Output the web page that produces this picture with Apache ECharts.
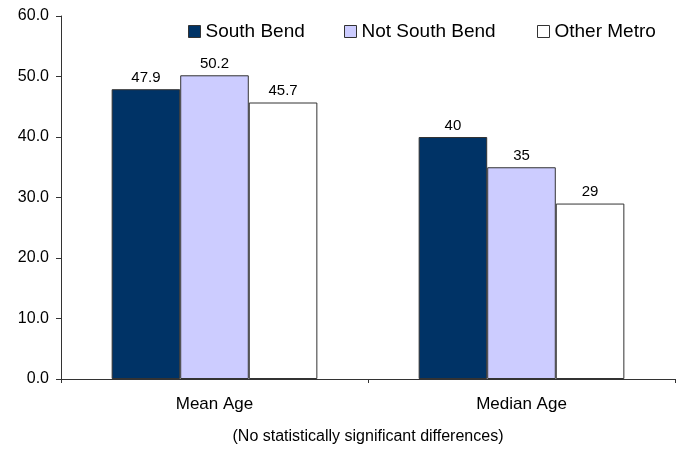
<!DOCTYPE html>
<html>
<head>
<meta charset="utf-8">
<script src="https://cdn.jsdelivr.net/npm/echarts@6/dist/echarts.min.js"></script>
<style>
  html, body { margin: 0; padding: 0; background: #fff; }
  #main { width: 681px; height: 450px; }
</style>
</head>
<body>
<div id="main"></div>
<script>
// 数据
const categories = ['Mean Age', 'Median Age'];
const southBend = [47.9, 40];
const notSouthBend = [50.2, 35];
const otherMetro = [45.7, 29];
const seriesNames = ['South Bend', 'Not South Bend', 'Other Metro'];
const seriesColors = ['#003366', '#CCCCFF', '#FFFFFF'];
const legendLeft = [183, 339, 532];

const myChart = echarts.init(document.getElementById('main'));
const font = 'Liberation Sans, Arial, sans-serif';

const makeSeries = (name, data, color) => ({
  name: name,
  type: 'bar',
  data: data,
  barCategoryGap: '33%',
  barGap: '0%',
  itemStyle: { color: color, borderColor: '#333', borderWidth: 1 },
  label: {
    show: true,
    position: 'top',
    distance: 4,
    color: '#000',
    fontSize: 15,
    fontFamily: font
  }
});

// 每个图例单独放置
const legends = seriesNames.map((n, i) => ({
  left: legendLeft[i],
  top: 17,
  itemWidth: 12,
  itemHeight: 12,
  icon: 'rect',
  textStyle: { fontSize: 19, color: '#000', fontFamily: font },
  data: [{
    name: n,
    itemStyle: { color: seriesColors[i], borderColor: '#333', borderWidth: 1 }
  }]
}));

const option = {
  animation: false,
  legend: legends,
  grid: { left: 61, right: 6, top: 16, bottom: 71 },
  xAxis: {
    type: 'category',
    data: categories,
    axisLine: { lineStyle: { color: '#333' } },
    axisTick: { show: true, length: 4, lineStyle: { color: '#333' } },
    axisLabel: { color: '#000', fontSize: 17, fontFamily: font, margin: 17 }
  },
  yAxis: {
    type: 'value',
    min: 0,
    max: 60,
    interval: 10,
    axisLine: { show: true, lineStyle: { color: '#333' } },
    axisTick: { show: true, length: 5, lineStyle: { color: '#333' } },
    splitLine: { show: false },
    axisLabel: {
      color: '#000',
      fontSize: 16,
      fontFamily: font,
      margin: 12,
      formatter: (v) => v.toFixed(1)
    }
  },
  graphic: [{
    type: 'text',
    x: 368,
    y: 437,
    style: {
      text: '(No statistically significant differences)',
      fill: '#000',
      fontSize: 16,
      fontFamily: font,
      align: 'center',
      verticalAlign: 'middle'
    }
  }],
  series: [
    makeSeries(seriesNames[0], southBend, seriesColors[0]),
    makeSeries(seriesNames[1], notSouthBend, seriesColors[1]),
    makeSeries(seriesNames[2], otherMetro, seriesColors[2])
  ]
};
myChart.setOption(option);
</script>
</body>
</html>
